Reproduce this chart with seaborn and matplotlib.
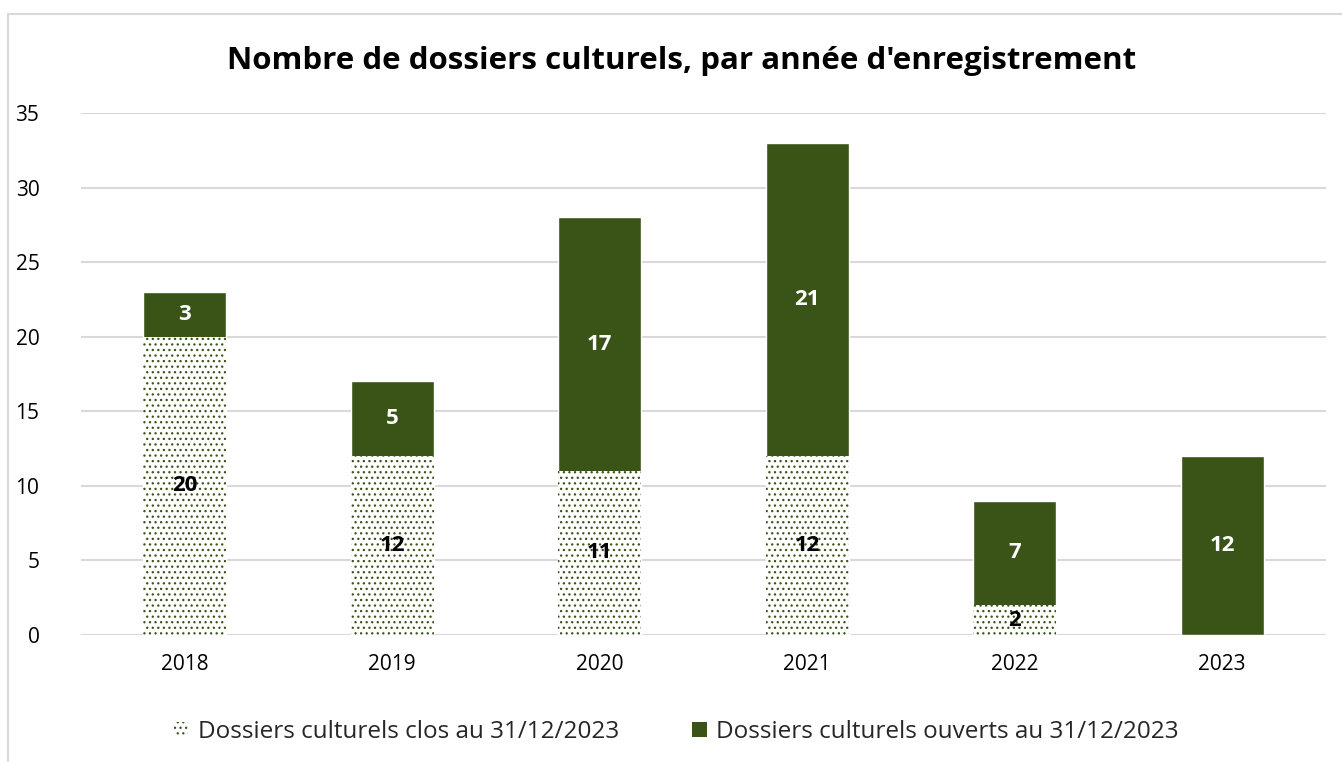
import matplotlib
matplotlib.use("Agg")
import matplotlib.pyplot as plt
from matplotlib.patches import Patch, Rectangle
import seaborn as sns
import pandas as pd

annees = ["2018", "2019", "2020", "2021", "2022", "2023"]
clos = [20, 12, 11, 12, 2, 0]
ouverts = [3, 5, 17, 21, 7, 12]

vert = "#3a5418"
titre = "Nombre de dossiers culturels, par année d'enregistrement"
lab_clos = "Dossiers culturels clos au 31/12/2023"
lab_ouv = "Dossiers culturels ouverts au 31/12/2023"

sns.set_theme(style="white")
plt.rcParams['font.family'] = ['Open Sans', 'DejaVu Sans']
plt.rcParams['hatch.linewidth'] = 0.9

df = pd.DataFrame({"annee": annees, "clos": clos, "ouverts": ouverts})
df["total"] = df["clos"] + df["ouverts"]

fig = plt.figure(figsize=(13.42, 7.62), dpi=100)
ax = fig.add_axes([0.0604, 0.1667, 0.9276, 0.685])

# barre totale en vert puis la partie "clos" en blanc pointillé par-dessus
sns.barplot(data=df, x="annee", y="total", color=vert, saturation=1,
            width=0.4, ax=ax, zorder=3)
sns.barplot(data=df, x="annee", y="clos", color="white", saturation=1,
            width=0.4, ax=ax, zorder=4, hatch="...", edgecolor=vert, linewidth=0)

for i, (c, o) in enumerate(zip(clos, ouverts)):
    if c > 0:
        ax.text(i, c / 2, str(c), ha="center", va="center", fontsize=16,
                fontweight="bold", color="black", zorder=6)
    if o > 0:
        ax.text(i, c + o / 2, str(o), ha="center", va="center", fontsize=16,
                fontweight="bold", color="white", zorder=6)

ax.set_ylim(0, 35)
ax.set_xlim(-0.5, 5.5)
ax.set_yticks(range(0, 36, 5))
ax.yaxis.grid(True, color="#d9d9d9", linewidth=1.5, zorder=0)
ax.set_axisbelow(True)
for s in ax.spines.values():
    s.set_visible(False)
ax.set_xlabel("")
ax.set_ylabel("")
ax.tick_params(axis="both", length=0, labelsize=15, labelcolor="black")
ax.tick_params(axis="y", pad=30)
ax.tick_params(axis="x", pad=14)

fig.text(0.508, 0.92, titre, ha="center", va="center", fontsize=22.5,
         fontweight="bold", color="black")

handles = [Patch(facecolor="white", edgecolor=vert, hatch="...", linewidth=0, label=lab_clos),
           Patch(facecolor=vert, edgecolor=vert, linewidth=0, label=lab_ouv)]
fig.legend(handles=handles, loc="center", bbox_to_anchor=(0.504, 0.039), ncol=2,
           frameon=False, fontsize=17.5, handlelength=0.6, handleheight=0.6,
           handletextpad=0.4, columnspacing=3.0)

fig.add_artist(Rectangle((8 / 1342, -0.2), 1.2, 1.2 - 14 / 762, transform=fig.transFigure,
                         fill=False, edgecolor="#d9d9d9", linewidth=1.5, clip_on=False))

fig.savefig("out.png", dpi=100)
